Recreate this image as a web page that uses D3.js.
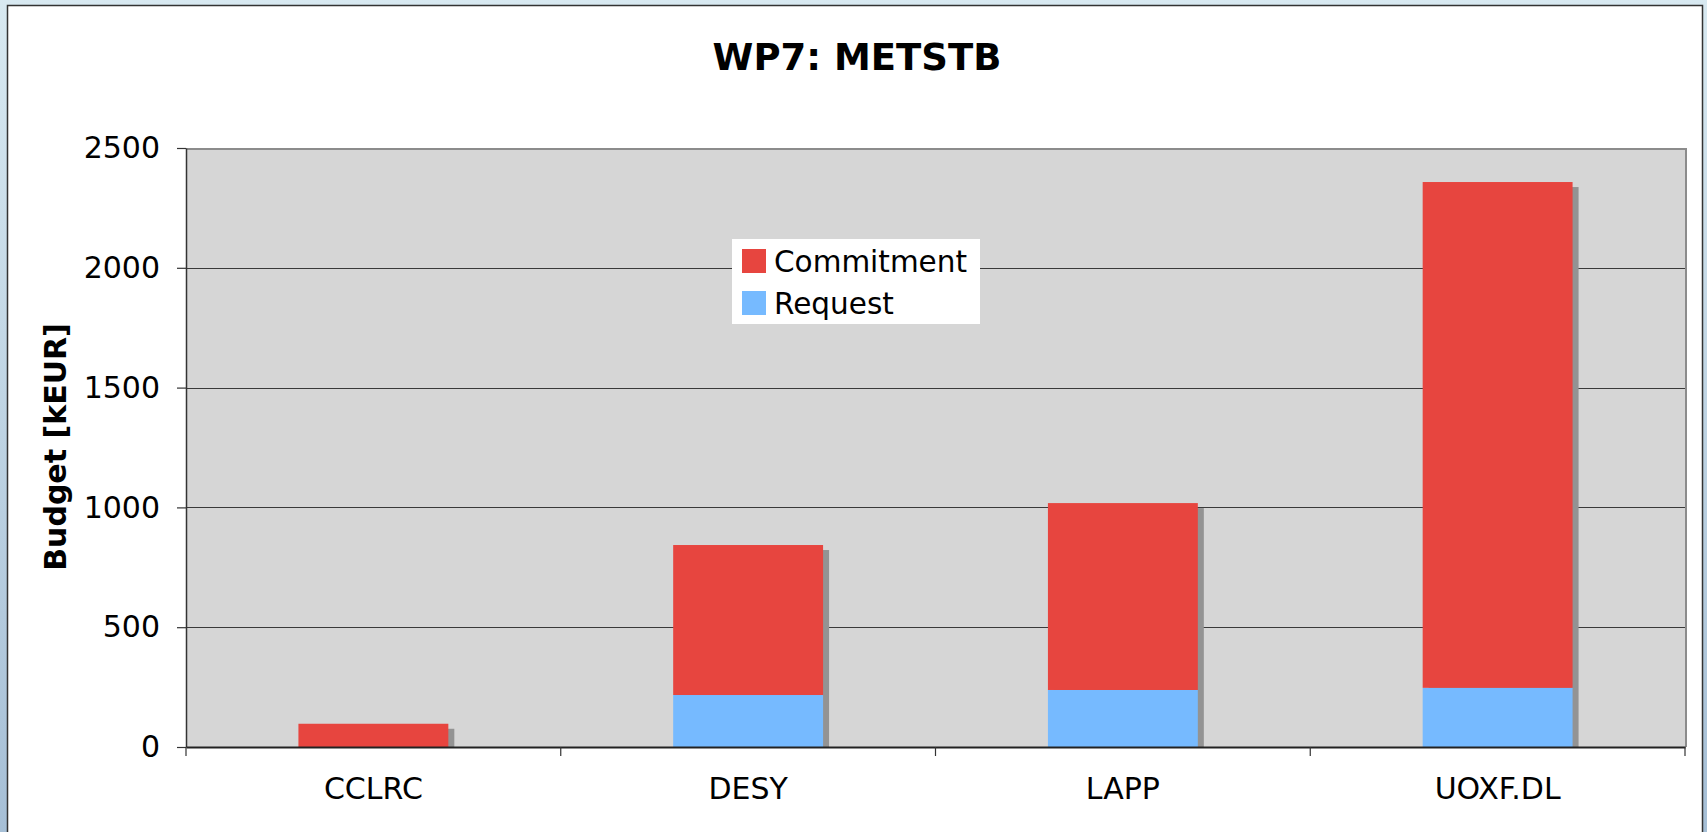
<!DOCTYPE html>
<html>
<head>
<meta charset="utf-8">
<script src="https://cdn.jsdelivr.net/npm/d3@7"></script>
<style>
	html, body { margin: 0; padding: 0; overflow: hidden; }
	body { width: 1707px; height: 832px; }
	text { font-family: "DejaVu Sans", Verdana, sans-serif; fill: #000; }
</style>
</head>
<body>
<svg id="chart" width="1707" height="832"></svg>
<script>
// chart data
var categories = ["CCLRC", "DESY", "LAPP", "UOXF.DL"];
var requestValues = [0, 217, 238, 247];
var commitmentValues = [97, 626, 780, 2111];
var seriesNames = ["Commitment", "Request"];
var yTickValues = [0, 500, 1000, 1500, 2000, 2500];

var COLORS = { Commitment: "#e7453f", Request: "#76baff" };

var svg = d3.select("#chart");

// slide background
var defs = svg.append("defs");
var grad = defs.append("linearGradient")
	.attr("id", "bg")
	.attr("x1", 0).attr("y1", 0).attr("x2", 0).attr("y2", 1);
grad.append("stop").attr("offset", "0%").attr("stop-color", "#d8e9f1");
grad.append("stop").attr("offset", "100%").attr("stop-color", "#a6bfd6");

svg.append("rect")
	.attr("width", 1707).attr("height", 832)
	.attr("fill", "url(#bg)");

svg.append("rect")
	.attr("x", 7.5).attr("y", 5.5)
	.attr("width", 1695).attr("height", 840)
	.attr("fill", "#fff")
	.attr("stroke", "#333")
	.attr("stroke-width", 1.5);

// plot area
var plot = { left: 186, top: 148, right: 1685, bottom: 747 };

var x = d3.scaleBand()
	.domain(categories)
	.range([plot.left, plot.right])
	.paddingInner(0.6)
	.paddingOuter(0.3);

var y = d3.scaleLinear()
	.domain([0, 2500])
	.range([plot.bottom, plot.top]);

svg.append("rect")
	.attr("x", plot.left).attr("y", plot.top)
	.attr("width", plot.right - plot.left)
	.attr("height", plot.bottom - plot.top)
	.attr("fill", "#d6d6d6");

// gridlines
svg.append("g").selectAll("line")
	.data(yTickValues.filter(function(d) { return d > 0 && d < 2500; }))
	.join("line")
	.attr("x1", plot.left).attr("x2", plot.right)
	.attr("y1", function(d) { return Math.round(y(d)) + 0.5; })
	.attr("y2", function(d) { return Math.round(y(d)) + 0.5; })
	.attr("stroke", "#3a3a3a")
	.attr("stroke-width", 1.2);

// plot border (top and right)
svg.append("path")
	.attr("d", "M" + plot.left + "," + (plot.top + 1) + " L" + (plot.right + 1) + "," + (plot.top + 1) + " L" + (plot.right + 1) + "," + plot.bottom)
	.attr("fill", "none")
	.attr("stroke", "#8c8c8c")
	.attr("stroke-width", 2);

// stacked data
var rows = categories.map(function(c, i) {
	return { cat: c, Request: requestValues[i], Commitment: commitmentValues[i] };
});
var stack = d3.stack().keys(["Request", "Commitment"]);
var stacked = stack(rows);

// shadows
svg.append("g").selectAll("rect")
	.data(rows)
	.join("rect")
	.attr("x", function(d) { return x(d.cat) + 6; })
	.attr("y", function(d) { return y(d.Request + d.Commitment) + 5; })
	.attr("width", x.bandwidth())
	.attr("height", function(d) { return y(0) - y(d.Request + d.Commitment) - 5; })
	.attr("fill", "#939393");

// bars
svg.append("g").selectAll("g")
	.data(stacked)
	.join("g")
	.attr("fill", function(s) { return COLORS[s.key]; })
	.selectAll("rect")
	.data(function(s) { return s; })
	.join("rect")
	.attr("x", function(d) { return x(d.data.cat); })
	.attr("y", function(d) { return y(d[1]); })
	.attr("width", x.bandwidth())
	.attr("height", function(d) { return y(d[0]) - y(d[1]); });

// y axis
var yAxis = svg.append("g")
	.attr("transform", "translate(" + plot.left + ",0)")
	.call(d3.axisLeft(y).tickValues(yTickValues).tickFormat(d3.format("d"))
		.tickSize(9).tickPadding(17).tickSizeOuter(0));
yAxis.select(".domain").attr("stroke", "#333").attr("stroke-width", 1.5);
yAxis.selectAll(".tick line").attr("stroke", "#333").attr("stroke-width", 1.2);
yAxis.selectAll(".tick text")
	.style("font-family", "'DejaVu Sans', Verdana, sans-serif")
	.style("font-size", "30px")
	.attr("fill", "#000");

// x axis
var xAxis = svg.append("g")
	.attr("transform", "translate(0," + plot.bottom + ")")
	.call(d3.axisBottom(x).tickSize(0).tickPadding(31).tickSizeOuter(0));
xAxis.select(".domain").attr("stroke", "#222").attr("stroke-width", 2);
xAxis.selectAll(".tick text")
	.style("font-family", "'DejaVu Sans', Verdana, sans-serif")
	.style("font-size", "30px")
	.attr("fill", "#000");

// category boundary ticks
var step = x.step();
svg.append("g").selectAll("line")
	.data(d3.range(categories.length + 1))
	.join("line")
	.attr("x1", function(i) { return x(categories[0]) - x.paddingOuter() * step + i * step; })
	.attr("x2", function(i) { return x(categories[0]) - x.paddingOuter() * step + i * step; })
	.attr("y1", plot.bottom).attr("y2", plot.bottom + 9)
	.attr("stroke", "#333")
	.attr("stroke-width", 1.2);

// title
svg.append("text")
	.attr("x", 857).attr("y", 70)
	.attr("text-anchor", "middle")
	.style("font-size", "37px")
	.style("font-weight", "bold")
	.text("WP7: METSTB");

// y axis title
svg.append("text")
	.attr("transform", "translate(66,447) rotate(-90)")
	.attr("text-anchor", "middle")
	.style("font-size", "30px")
	.style("font-weight", "bold")
	.text("Budget [kEUR]");

// legend
var legend = svg.append("g").attr("transform", "translate(732,239)");
legend.append("rect")
	.attr("width", 248).attr("height", 85)
	.attr("fill", "#fff");
var item = legend.selectAll("g.item")
	.data(seriesNames)
	.join("g")
	.attr("class", "item")
	.attr("transform", function(d, i) { return "translate(10," + (10 + i * 42) + ")"; });
item.append("rect")
	.attr("width", 24).attr("height", 24)
	.attr("fill", function(d) { return COLORS[d]; });
item.append("text")
	.attr("x", 32).attr("y", 23)
	.style("font-size", "29.5px")
	.text(function(d) { return d; });
</script>
</body>
</html>
